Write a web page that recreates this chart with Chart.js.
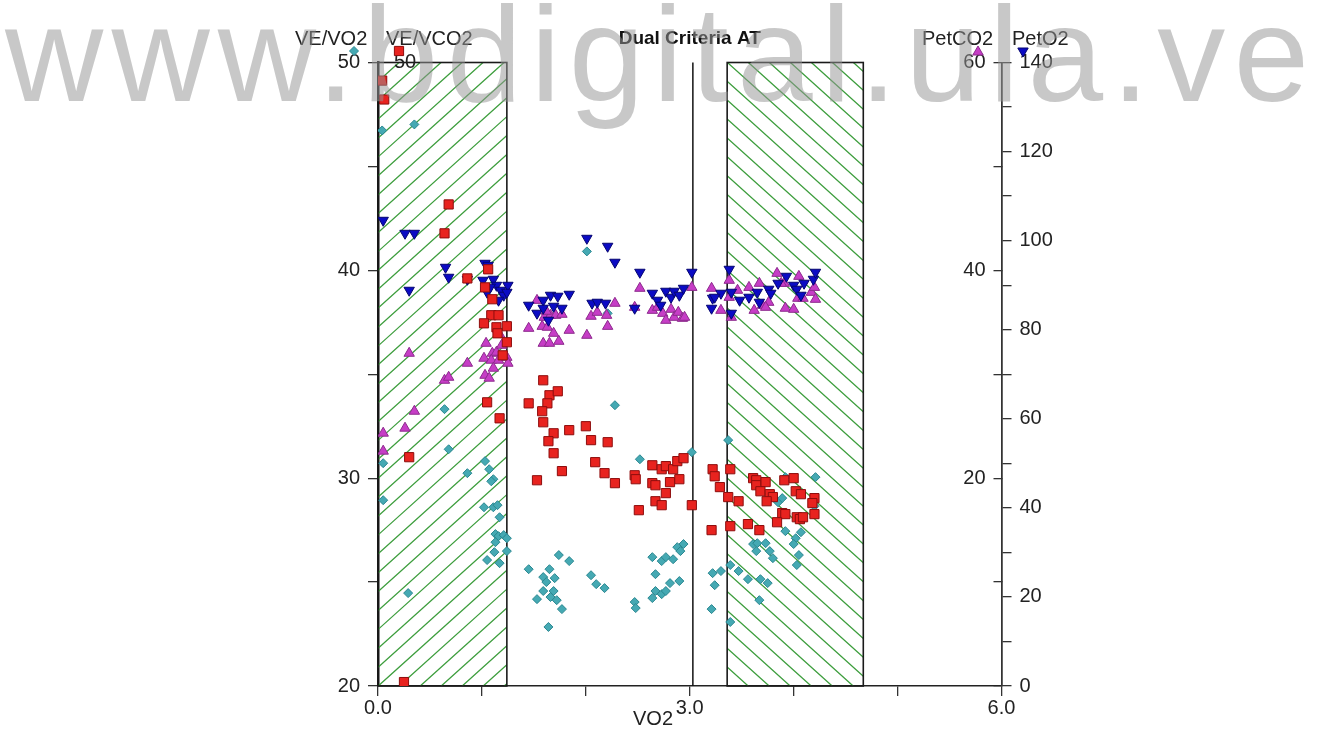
<!DOCTYPE html>
<html>
<head>
<meta charset="utf-8">
<title>Dual Criteria AT</title>
<script src="https://cdn.jsdelivr.net/npm/chart.js@4.4.1/dist/chart.umd.min.js"></script>
<style>
  html, body { margin: 0; padding: 0; background: #fff; }
  #wrap { position: relative; width: 1323px; height: 740px; overflow: hidden; }
  #watermark {
    position: absolute; left: 5px; top: -14px;
    font: 136px "Liberation Sans", Arial, sans-serif; line-height: 1;
    letter-spacing: 8.2px; color: rgba(150, 150, 150, 0.52);
    white-space: nowrap; pointer-events: none;
  }
</style>
</head>
<body>
<div id="wrap">
  <canvas id="chart"></canvas>
  <div id="watermark">www.bdigital.ula.ve</div>
</div>
<script>
// --- data ---
// VE/VO2 (teal diamonds), left axis
const veVo2X = [
  0.04, 0.35, 0.64, 0.68, 0.05, 0.05, 0.29, 1.03, 1.07, 1.11,
  1.09, 0.86, 1.02, 1.11, 1.15, 1.17, 1.13, 1.16, 1.21, 1.24,
  1.13, 1.12, 1.24, 1.05, 1.17, 1.45, 2.28, 2.52, 3.02, 3.37,
  3.92, 4.21, 4.20, 3.85, 3.89, 3.92, 4.07, 4.02, 4.00, 4.05,
  4.03, 3.61, 3.65, 3.64, 3.73, 3.77, 3.80, 3.68, 3.75, 3.67,
  3.56, 3.47, 3.39, 3.30, 3.22, 3.24, 3.21, 3.39, 1.59, 1.65,
  1.70, 1.62, 1.59, 1.69, 1.66, 1.72, 1.53, 1.77, 1.64, 1.74,
  1.84, 2.05, 2.10, 2.18, 2.47, 2.48, 2.64, 2.67, 2.73, 2.77,
  2.84, 2.88, 2.94, 2.91, 2.81, 2.90, 2.67, 2.73, 2.77, 2.64,
  2.01, 2.21
];
const veVo2Y = [
  46.73, 47.02, 33.32, 31.39, 30.72, 28.94, 24.47, 30.82, 30.43, 29.95,
  29.85, 30.24, 28.60, 28.60, 28.70, 28.12, 27.31, 27.21, 27.26, 27.11,
  26.92, 26.44, 26.49, 26.06, 25.91, 25.62, 33.51, 30.91, 31.25, 31.83,
  30.05, 30.05, 28.65, 28.84, 29.04, 27.45, 27.40, 27.11, 26.83, 26.30,
  25.82, 26.83, 26.87, 26.49, 26.87, 26.49, 26.15, 25.14, 24.95, 24.13,
  25.14, 25.53, 25.82, 25.53, 25.43, 24.85, 23.70, 23.08, 25.24, 25.62,
  25.19, 25.00, 24.57, 24.57, 24.28, 24.13, 24.18, 23.70, 22.84, 26.30,
  26.01, 25.33, 24.90, 24.71, 24.04, 23.75, 26.20, 25.38, 26.01, 26.20,
  26.10, 26.68, 26.83, 26.49, 24.95, 25.05, 24.57, 24.42, 24.57, 24.23,
  40.91, 37.93
];

// VE/VCO2 (red squares), same 20-50 scale
const veVco2X = [
  0.04, 0.06, 0.68, 0.64, 0.86, 1.06, 1.03, 1.10, 1.09, 1.16,
  1.02, 1.14, 1.24, 1.15, 1.24, 1.20, 1.05, 1.17, 0.30, 1.45,
  0.25, 1.59, 1.65, 1.73, 1.63, 1.58, 1.59, 1.69, 1.64, 1.69,
  1.84, 2.00, 2.05, 2.21, 2.09, 2.18, 2.28, 1.77, 1.53, 2.47,
  2.48, 2.51, 2.64, 2.64, 2.67, 2.73, 2.77, 2.84, 2.88, 2.94,
  2.81, 2.90, 2.77, 2.67, 2.73, 3.02, 3.22, 3.24, 3.29, 3.39,
  3.37, 3.47, 3.21, 3.39, 3.56, 3.67, 3.61, 3.64, 3.64, 3.73,
  3.68, 3.77, 3.80, 3.74, 3.91, 4.00, 4.02, 4.07, 4.20, 4.18,
  4.20, 3.89, 3.92, 4.03, 4.06, 4.09, 3.84
];
const veVco2Y = [
  49.13, 48.22, 43.17, 41.78, 39.61, 40.05, 39.18, 38.61, 37.84, 37.84,
  37.45, 37.26, 37.31, 36.97, 36.54, 35.91, 33.65, 32.88, 31.01, 33.60,
  20.19, 34.71, 33.99, 34.18, 33.60, 33.22, 32.69, 32.16, 31.78, 31.20,
  32.31, 32.50, 31.83, 31.73, 30.77, 30.24, 29.76, 30.34, 29.90, 30.14,
  29.95, 28.46, 30.62, 29.76, 29.66, 30.43, 30.58, 30.43, 30.82, 30.96,
  29.81, 29.95, 29.28, 28.89, 28.70, 28.70, 30.43, 30.09, 29.57, 30.43,
  29.09, 28.89, 27.50, 27.69, 27.79, 27.50, 30.00, 29.90, 29.66, 29.81,
  29.37, 29.23, 29.09, 28.89, 29.90, 30.00, 29.37, 29.23, 29.04, 28.80,
  28.27, 28.32, 28.27, 28.12, 28.03, 28.12, 27.88
];

// PetCO2 (magenta triangles), right axis 0-60
const petCo2X = [
  0.30, 0.86, 0.64, 0.68, 1.04, 1.17, 1.10, 1.14, 1.19, 1.02,
  1.09, 1.16, 1.24, 1.25, 1.11, 1.03, 1.07, 1.45, 0.05, 0.05,
  0.26, 0.35, 1.53, 1.58, 1.63, 1.69, 1.59, 1.65, 1.74, 1.84,
  2.01, 2.21, 1.60, 1.66, 1.71, 1.77, 1.62, 2.05, 2.11, 2.20,
  2.28, 2.47, 2.52, 2.64, 2.69, 2.74, 2.77, 2.82, 2.85, 2.89,
  2.93, 2.95, 3.02, 3.21, 3.30, 3.38, 3.38, 3.40, 3.46, 3.57,
  3.67, 3.62, 3.70, 3.76, 3.73, 3.84, 3.91, 3.92, 4.00, 4.05,
  4.04, 4.09, 4.17, 4.21, 4.20, 3.88
];
const petCo2Y = [
  32.02, 31.06, 29.42, 29.71, 32.98, 33.85, 32.02, 32.12, 32.79, 31.54,
  31.35, 31.35, 31.63, 31.06, 30.58, 29.90, 29.62, 34.42, 24.33, 22.60,
  24.81, 26.44, 37.11, 34.61, 34.52, 33.94, 32.98, 32.98, 33.17, 34.23,
  33.75, 34.61, 35.48, 35.67, 35.67, 35.77, 36.06, 35.58, 35.96, 35.67,
  36.83, 36.44, 38.27, 36.15, 36.44, 35.86, 35.19, 36.25, 35.48, 35.96,
  35.38, 35.48, 38.36, 38.27, 36.15, 39.04, 37.40, 35.48, 38.08, 38.36,
  38.75, 36.15, 36.63, 36.92, 36.44, 39.71, 38.75, 36.35, 36.25, 39.42,
  37.31, 37.31, 37.88, 37.21, 38.36, 38.75
];

// PetO2 (blue triangles), right axis 0-140
const petO2X = [
  0.05, 0.26, 0.35, 0.30, 0.65, 0.68, 0.86, 1.03, 1.06, 1.01,
  1.11, 1.14, 1.18, 1.25, 1.21, 1.16, 1.05, 1.08, 1.45, 1.24,
  1.53, 1.59, 1.66, 1.73, 1.59, 1.64, 1.69, 1.77, 1.84, 2.01,
  2.21, 2.28, 2.06, 2.11, 2.19, 2.47, 2.52, 2.64, 2.69, 2.72,
  2.77, 2.82, 2.85, 2.90, 2.94, 3.02, 3.22, 3.30, 3.21, 3.38,
  3.40, 3.40, 3.48, 3.57, 3.65, 3.67, 3.76, 3.78, 3.85, 3.93,
  4.00, 4.03, 4.07, 4.10, 4.19, 4.21, 3.24
];
const petO2Y = [
  104.57, 101.65, 101.65, 88.86, 94.02, 91.78, 91.33, 94.92, 94.47, 91.11,
  91.33, 89.98, 88.86, 89.98, 87.74, 86.62, 88.41, 89.54, 85.50, 88.41,
  83.70, 86.62, 87.74, 87.52, 84.82, 82.13, 85.27, 84.82, 87.96, 100.53,
  98.74, 95.15, 85.95, 86.17, 85.95, 84.82, 92.90, 88.19, 86.62, 85.50,
  88.64, 87.29, 88.64, 87.74, 89.31, 92.90, 87.07, 88.19, 84.82, 93.57,
  88.41, 83.70, 86.62, 87.29, 88.41, 86.17, 89.09, 88.19, 90.43, 92.00,
  89.98, 89.09, 87.74, 90.43, 91.33, 92.90, 87.29
];

// tick labels that are printed (other ticks are bare marks)
const xTickLabels = [0, 3, 6];
const leftTickLabels = [20, 30, 40, 50];
const co2TickLabels = [20, 40, 60];
const o2TickLabels = [0, 20, 40, 60, 80, 100, 120, 140];

// hatched ranges on VO2 and the AT marker
const hatchLeft = [0, 1.24];
const hatchRight = [3.36, 4.67];
const atLine = 3.03;

const pts = (xs, ys) => xs.map((x, i) => ({ x: x, y: ys[i] }));

Chart.defaults.font.family = '"Liberation Sans", Arial, sans-serif';
Chart.defaults.font.size = 20;
Chart.defaults.color = "#222";

// draw a marker the same way for the little legend symbols
function marker(ctx, kind, x, y, r, fill, stroke) {
  ctx.save();
  ctx.fillStyle = fill;
  ctx.strokeStyle = stroke;
  ctx.lineWidth = 1;
  ctx.beginPath();
  if (kind === "diamond") {
    ctx.moveTo(x - r, y); ctx.lineTo(x, y - r); ctx.lineTo(x + r, y); ctx.lineTo(x, y + r);
  } else if (kind === "square") {
    const s = r * Math.SQRT1_2;
    ctx.rect(x - s, y - s, 2 * s, 2 * s);
  } else {
    const d = kind === "up" ? 1 : -1;
    ctx.moveTo(x, y - d * r);
    ctx.lineTo(x + r * 0.866, y + d * r / 2);
    ctx.lineTo(x - r * 0.866, y + d * r / 2);
  }
  ctx.closePath();
  ctx.fill();
  ctx.stroke();
  ctx.restore();
}

const hatchPlugin = {
  id: "hatch",
  beforeDatasetsDraw(chart) {
    const { ctx, chartArea: a, scales: { x } } = chart;
    const drawBox = (range, dir) => {
      const l = x.getPixelForValue(range[0]);
      const r = x.getPixelForValue(range[1]);
      const h = a.bottom - a.top;
      const run = h / 0.9;
      ctx.save();
      ctx.beginPath();
      ctx.rect(l, a.top, r - l, h);
      ctx.clip();
      ctx.strokeStyle = "#3e9e3e";
      ctx.lineWidth = 1.3;
      ctx.beginPath();
      for (let s = l - run; s < r + run; s += 21) {
        if (dir > 0) {
          ctx.moveTo(s, a.bottom);
          ctx.lineTo(s + run, a.top);
        } else {
          ctx.moveTo(s, a.top);
          ctx.lineTo(s + run, a.bottom);
        }
      }
      ctx.stroke();
      ctx.restore();
      ctx.save();
      ctx.strokeStyle = "#1a1a1a";
      ctx.lineWidth = 1.6;
      ctx.strokeRect(l, a.top, r - l, h);
      ctx.restore();
    };
    drawBox(hatchLeft, 1);
    drawBox(hatchRight, -1);

    const px = x.getPixelForValue(atLine);
    ctx.save();
    ctx.strokeStyle = "#111";
    ctx.lineWidth = 1.5;
    ctx.beginPath();
    ctx.moveTo(px, a.top);
    ctx.lineTo(px, a.bottom);
    ctx.stroke();
    ctx.restore();
  }
};

const headerPlugin = {
  id: "header",
  afterDraw(chart) {
    const { ctx, scales } = chart;
    ctx.save();
    ctx.font = '20px "Liberation Sans", Arial, sans-serif';
    ctx.fillStyle = "#222";
    ctx.textBaseline = "middle";
    ctx.textAlign = "left";
    ctx.fillText("VE/VO2", 295, 39);
    ctx.fillText("VE/VCO2", 386, 39);
    ctx.fillText("PetCO2", 922, 39);
    ctx.fillText("PetO2", 1012, 39);
    ctx.textAlign = "center";
    ctx.fillText(String(scales.y2.max), 405, scales.y2.getPixelForValue(scales.y2.max));
    ctx.fillText("VO2", 653, 719);
    ctx.restore();

    marker(ctx, "diamond", 354, 51, 4.5, "#45a9b3", "#2a8790");
    marker(ctx, "square", 399, 51, 6.5, "#e8231f", "#8e0d0d");
    marker(ctx, "up", 978, 52, 6, "#c63dc6", "#8d2a8d");
    marker(ctx, "down", 1023, 51, 6, "#0b0bc4", "#050570");
  }
};

const tickGrid = { drawOnChartArea: false, drawTicks: true, tickLength: 10, color: "#333", lineWidth: 1.3 };

new Chart(document.getElementById("chart"), {
  type: "scatter",
  data: {
    datasets: [
      {
        label: "VE/VCO2",
        data: pts(veVco2X, veVco2Y),
        yAxisID: "y2",
        pointStyle: "rect",
        pointRadius: 6.5,
        backgroundColor: "#e8231f",
        borderColor: "#8e0d0d",
        borderWidth: 1,
      },
      {
        label: "PetO2",
        data: pts(petO2X, petO2Y),
        yAxisID: "yO2",
        pointStyle: "triangle",
        rotation: 180,
        pointRadius: 6,
        backgroundColor: "#0b0bc4",
        borderColor: "#050570",
        borderWidth: 1,
      },
      {
        label: "PetCO2",
        data: pts(petCo2X, petCo2Y),
        yAxisID: "yCO2",
        pointStyle: "triangle",
        pointRadius: 6,
        backgroundColor: "#c63dc6",
        borderColor: "#8d2a8d",
        borderWidth: 1,
      },
      {
        label: "VE/VO2",
        data: pts(veVo2X, veVo2Y),
        yAxisID: "y",
        pointStyle: "rectRot",
        pointRadius: 4.5,
        backgroundColor: "#45a9b3",
        borderColor: "#2a8790",
        borderWidth: 1,
      },
    ],
  },
  options: {
    responsive: true,
    maintainAspectRatio: false,
    animation: false,
    layout: { padding: 0 },
    plugins: {
      legend: { display: false },
      tooltip: { enabled: false },
      title: {
        display: true,
        text: "Dual Criteria AT",
        fullSize: false,
        color: "#111",
        font: { size: 19, weight: "bold" },
        padding: { top: 27, bottom: 12.7 },
      },
    },
    scales: {
      x: {
        type: "linear",
        position: "bottom",
        min: 0,
        max: 6,
        afterFit: (s) => { s.height = 54; },
        border: { display: true, color: "#222", width: 1.5 },
        grid: tickGrid,
        ticks: {
          stepSize: 1,
          autoSkip: false,
          maxRotation: 0,
          padding: 0,
          callback: (v) => (xTickLabels.includes(v) ? v.toFixed(1) : ""),
        },
      },
      y: {
        position: "left",
        min: 20,
        max: 50,
        afterFit: (s) => { s.width = 378; },
        border: { display: true, color: "#111", width: 2.5 },
        grid: tickGrid,
        ticks: {
          stepSize: 5,
          autoSkip: false,
          padding: 8,
          callback: (v) => (leftTickLabels.includes(v) ? String(v) : ""),
        },
      },
      y2: { display: false, min: 20, max: 50 },
      yCO2: {
        position: "right",
        weight: 0,
        min: 0,
        max: 60,
        afterFit: (s) => { s.width = 0; },
        border: { display: true, color: "#333", width: 1.5 },
        grid: { drawOnChartArea: false, drawTicks: true, tickLength: -8, color: "#333", lineWidth: 1.3 },
        ticks: {
          mirror: true,
          stepSize: 10,
          autoSkip: false,
          padding: -16,
          callback: (v) => (co2TickLabels.includes(v) ? String(v) : ""),
        },
      },
      yO2: {
        position: "right",
        weight: 1,
        min: 0,
        max: 140,
        afterFit: (s) => { s.width = 321.5; },
        border: { display: true, color: "#333", width: 1.5 },
        grid: tickGrid,
        ticks: {
          stepSize: 10,
          autoSkip: false,
          padding: 8,
          callback: (v) => (o2TickLabels.includes(v) ? String(v) : ""),
        },
      },
    },
  },
  plugins: [hatchPlugin, headerPlugin],
});
</script>
</body>
</html>
